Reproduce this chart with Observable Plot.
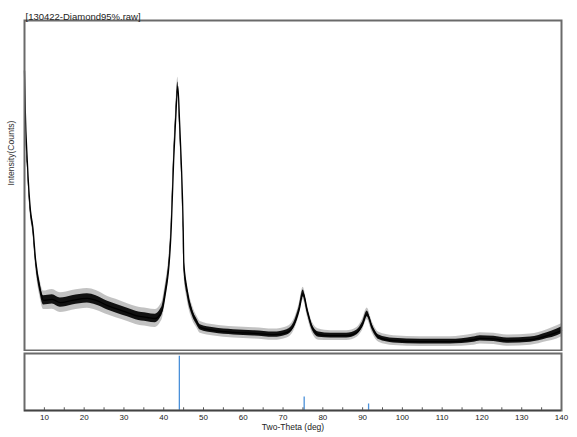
<!DOCTYPE html>
<html>
<head>
<meta charset="utf-8">
<script src="https://cdn.jsdelivr.net/npm/d3@7"></script>
<script src="https://cdn.jsdelivr.net/npm/@observablehq/plot@0.6"></script>
<style>
  html, body { margin: 0; padding: 0; background: #fff; }
  #chart { width: 577px; height: 437px; position: relative; }
  #chart svg { display: block; }
</style>
</head>
<body>
<div id="chart"></div>
<script>
// ---- data ----
const fileTitle = "[130422-Diamond95%.raw]";
const yLabel = "Intensity(Counts)";
const xLabel = "Two-Theta (deg)";

// measured pattern (two-theta, intensity in counts)
const twoTheta = [5.0, 5.2, 5.7, 6.5, 7.1, 7.8, 8.85, 9.8, 12, 14, 17, 20.8, 23, 25.9, 28, 30.9, 33, 35.9, 37.9, 39.2, 39.6, 40.4, 41.0, 41.2, 41.9, 42.5, 43.0, 43.55, 44.0, 44.4, 44.9, 45.05, 45.8, 47.2, 48.4, 49.2, 52.6, 57.6, 62.6, 67.7, 71, 72.7, 74.0, 75.05, 76.1, 77.3, 79, 82, 86, 88.6, 89.9, 91.15, 92.4, 94.1, 97.8, 104.5, 112, 117.9, 119.6, 123, 126.3, 132.2, 136.4, 138.9, 140];
const intensity = [848, 727, 576, 424, 373, 273, 191, 152, 155, 145, 152, 158, 152, 136, 127, 115, 106, 100, 97, 112, 121, 173, 221, 242, 373, 576, 700, 800, 690, 576, 373, 267, 188, 115, 85, 70, 61, 55, 52, 48, 55, 76, 121, 173, 121, 71, 48, 45, 45, 55, 76, 111, 71, 40, 30, 27, 27, 33, 37, 35, 30, 33, 45, 55, 61];
// half-width of the dense noise band and of the spikes (counts)
const noiseCore = [10, 10, 10, 10, 10, 11, 13, 14, 14, 14, 14, 14, 14, 13, 13, 13, 13, 13, 13, 13, 13, 14, 14, 14, 14, 14, 14, 14, 14, 14, 14, 14, 13, 10, 9, 8, 8, 8, 8, 8, 8, 8, 9, 10, 9, 8, 8, 7, 7, 7, 8, 9, 8, 7, 7, 7, 7, 8, 8, 8, 8, 8, 9, 10, 10];
const noiseSpike = [18, 18, 18, 18, 20, 22, 26, 28, 30, 30, 30, 30, 30, 28, 28, 27, 27, 27, 27, 27, 27, 28, 28, 28, 28, 28, 28, 28, 28, 28, 28, 28, 26, 22, 18, 18, 17, 17, 17, 17, 17, 17, 18, 19, 18, 17, 17, 15, 15, 15, 17, 18, 17, 15, 15, 15, 15, 17, 17, 17, 17, 17, 18, 20, 20];

// reference pattern sticks (diamond)
const refTwoTheta = [43.93, 75.31, 91.50];
const refIntensity = [100, 25, 12];

// axis ticks
const majorTicks = [10, 20, 30, 40, 50, 60, 70, 80, 90, 100, 110, 120, 130, 140];
const minorTicks = [5, 10, 15, 20, 25, 30, 35, 40, 45, 50, 55, 60, 65, 70, 75, 80, 85, 90, 95, 100, 105, 110, 115, 120, 125, 130, 135, 140];

// ---- build ----
const pattern = twoTheta.map((t, i) => ({
  t, v: intensity[i],
  lo: intensity[i] - noiseCore[i], hi: intensity[i] + noiseCore[i],
  slo: intensity[i] - noiseSpike[i], shi: intensity[i] + noiseSpike[i]
}));
const sticks = refTwoTheta.map((t, i) => ({t, v: refIntensity[i]}));

const font = "'Liberation Sans', Arial, sans-serif";
const xDomain = [5, 140];

const topPanel = Plot.plot({
  width: 577, height: 351,
  marginTop: 20, marginBottom: 1, marginLeft: 24, marginRight: 16,
  style: {fontFamily: font, background: "white"},
  x: {domain: xDomain, axis: null},
  y: {domain: [0, 1000], axis: null},
  marks: [
    Plot.areaY(pattern, {x: "t", y1: "slo", y2: "shi", fill: "#666", fillOpacity: 0.4, curve: "monotone-x"}),
    Plot.areaY(pattern, {x: "t", y1: "lo", y2: "hi", fill: "#111", curve: "monotone-x"}),
    Plot.line(pattern, {x: "t", y: "v", stroke: "#000", strokeWidth: 1.3, curve: "monotone-x"}),
    Plot.frame({stroke: "#6a6a6a", strokeWidth: 2}),
    Plot.text([fileTitle], {frameAnchor: "top-left", dx: 1, dy: -7, fontSize: 9.5, fill: "#222", textAnchor: "start"}),
    Plot.text([yLabel], {frameAnchor: "left", dx: -13, rotate: -90, fontSize: 8.6, fill: "#333"})
  ]
});

const bottomPanel = Plot.plot({
  width: 577, height: 86,
  marginTop: 2, marginBottom: 27, marginLeft: 24, marginRight: 16,
  style: {fontFamily: font, background: "white"},
  x: {domain: xDomain},
  y: {domain: [0, 105], axis: null},
  marks: [
    Plot.ruleX(sticks, {x: "t", y1: 0, y2: "v", stroke: "#4a90d9", strokeWidth: 1.3}),
    Plot.ruleX(minorTicks, {x: d => d, y1: 0, y2: 5, stroke: "#555", strokeWidth: 1}),
    Plot.frame({stroke: "#6a6a6a", strokeWidth: 2}),
    Plot.ruleY([0], {stroke: "#444", strokeWidth: 1.5}),
    Plot.axisX(majorTicks, {tickSize: 0, tickPadding: 4, fontSize: 8, label: null, color: "#222", tickFormat: d => String(d)}),
    Plot.text([xLabel], {frameAnchor: "bottom", dy: 19.5, fontSize: 8.5, fill: "#222"})
  ]
});

const holder = document.getElementById("chart");
holder.appendChild(topPanel);
holder.appendChild(bottomPanel);
</script>
</body>
</html>
